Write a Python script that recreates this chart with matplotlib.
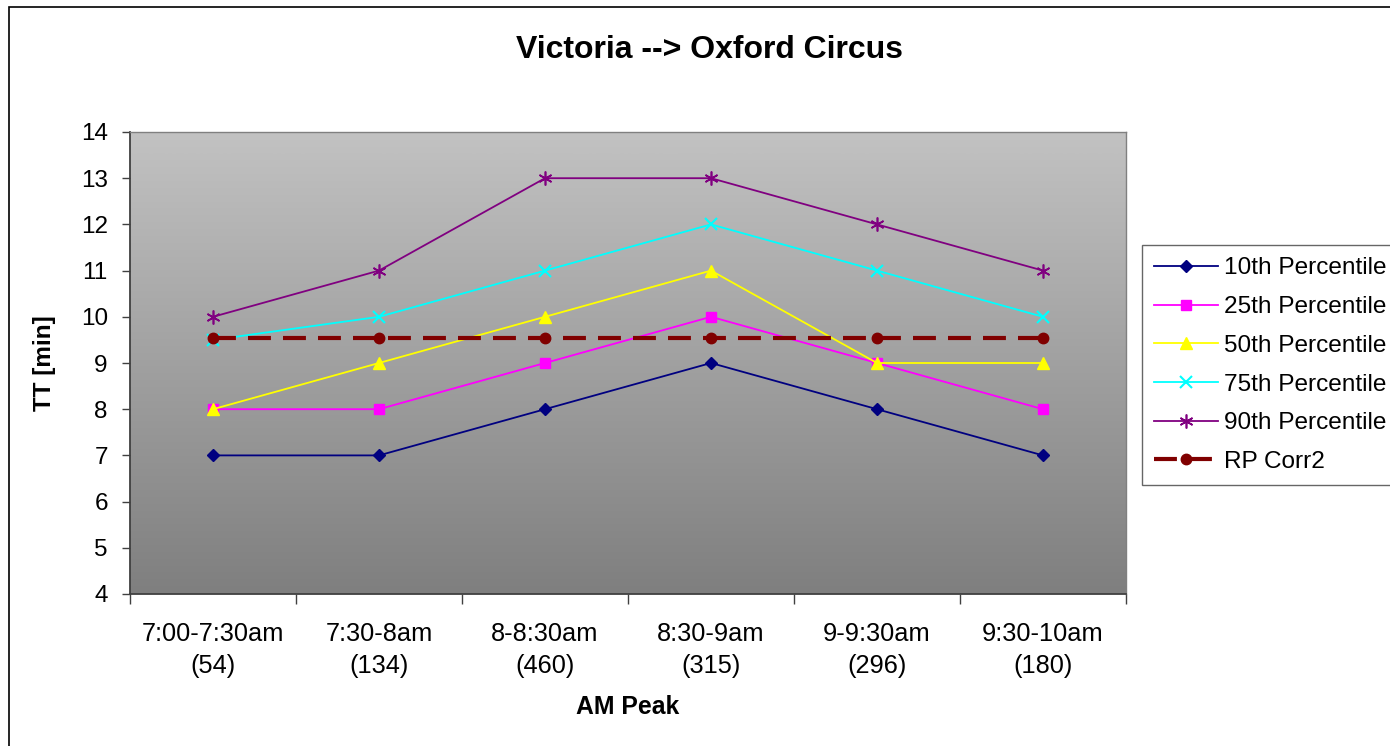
import numpy as np
import matplotlib
matplotlib.use("Agg")
import matplotlib.pyplot as plt
from matplotlib.patches import Rectangle

plt.rcParams['font.family'] = ['Liberation Sans', 'DejaVu Sans']

periods = ["7:00-7:30am\n(54)", "7:30-8am\n(134)", "8-8:30am\n(460)",
           "8:30-9am\n(315)", "9-9:30am\n(296)", "9:30-10am\n(180)"]
p10 = [7, 7, 8, 9, 8, 7]
p25 = [8, 8, 9, 10, 9, 8]
p50 = [8, 9, 10, 11, 9, 9]
p75 = [9.5, 10, 11, 12, 11, 10]
p90 = [10, 11, 13, 13, 12, 11]
rp_corr2 = [9.55, 9.55, 9.55, 9.55, 9.55, 9.55]

W, H = 1390, 746
fig = plt.figure(figsize=(W / 100, H / 100), dpi=100)
fig.patch.set_facecolor('white')

# outer chart border (runs off the right and bottom edges)
fig.patches.append(Rectangle((9 / W, -0.05), 1.2, 1 - 7 / H + 0.05,
                             transform=fig.transFigure, fill=False,
                             edgecolor='black', linewidth=1.2, zorder=0))

ax = fig.add_axes([130 / W, 1 - 594 / H, 996 / W, 462 / H])

# vertical grey gradient background
grad = np.linspace(0, 1, 256).reshape(-1, 1)
ax.imshow(grad, extent=[0, 1, 0, 1], transform=ax.transAxes, aspect='auto',
          cmap=matplotlib.colors.LinearSegmentedColormap.from_list(
              'g', ['#c2c2c2', '#7f7f7f']), zorder=0, interpolation='bicubic')

x = np.arange(len(periods))
lw = 1.3
ax.plot(x, p10, color='#000080', marker='D', markersize=6.5, lw=lw,
        label='10th Percentile', zorder=3)
ax.plot(x, p25, color='#ff00ff', marker='s', markersize=6.5, lw=lw,
        label='25th Percentile', zorder=3)
ax.plot(x, p50, color='#ffff00', marker='^', markersize=8.5, lw=lw,
        label='50th Percentile', zorder=3)
ax.plot(x, p75, color='#00ffff', marker='x', markersize=8, mew=1.5, lw=lw,
        label='75th Percentile', zorder=3)
ax.plot(x, p90, color='#800080', marker=(6, 2, 0), markersize=10, mew=1.2,
        lw=lw, label='90th Percentile', zorder=3)
ax.plot(x, rp_corr2, color='#800000', marker='o', markersize=7.5, lw=3,
        dashes=(5.5, 2.9), label='RP Corr2', zorder=4)

ax.set_xlim(-0.5, len(periods) - 0.5)
ax.set_ylim(4, 14)
ax.set_yticks(range(4, 15))
ax.set_xticks(x)
ax.set_xticklabels(periods, fontsize=18.3, linespacing=1.45)
ax.set_xticks(np.arange(-0.5, len(periods)), minor=True)
ax.tick_params(axis='x', which='major', length=0, pad=20)
ax.tick_params(axis='x', which='minor', length=7, color='#404040', width=1)
ax.tick_params(axis='y', length=6, color='#404040', width=1, labelsize=17.5,
               pad=10)

for side in ('left', 'bottom'):
    ax.spines[side].set_color('#404040')
    ax.spines[side].set_linewidth(1.3)
for side in ('top', 'right'):
    ax.spines[side].set_color('#808080')
    ax.spines[side].set_linewidth(1.0)

fig.text(709 / W, 1 - 50 / H, 'Victoria --> Oxford Circus', ha='center',
         va='center', fontsize=23, fontweight='bold')
fig.text(628 / W, 1 - 707 / H, 'AM Peak', ha='center', va='center',
         fontsize=17.8, fontweight='bold')
fig.text(45 / W, 1 - 363 / H, 'TT [min]', ha='center', va='center',
         rotation=90, fontsize=17.5, fontweight='bold')

leg = ax.legend(loc='upper left', bbox_to_anchor=(1142 / W, 1 - 245 / H),
                bbox_transform=fig.transFigure, borderaxespad=0,
                fontsize=17.6, frameon=True, fancybox=False, handlelength=2.6,
                handletextpad=0.27, labelspacing=0.68, borderpad=0.5)
leg.get_frame().set_edgecolor('#404040')
leg.get_frame().set_linewidth(1.0)

fig.savefig('out.png', dpi=100)
